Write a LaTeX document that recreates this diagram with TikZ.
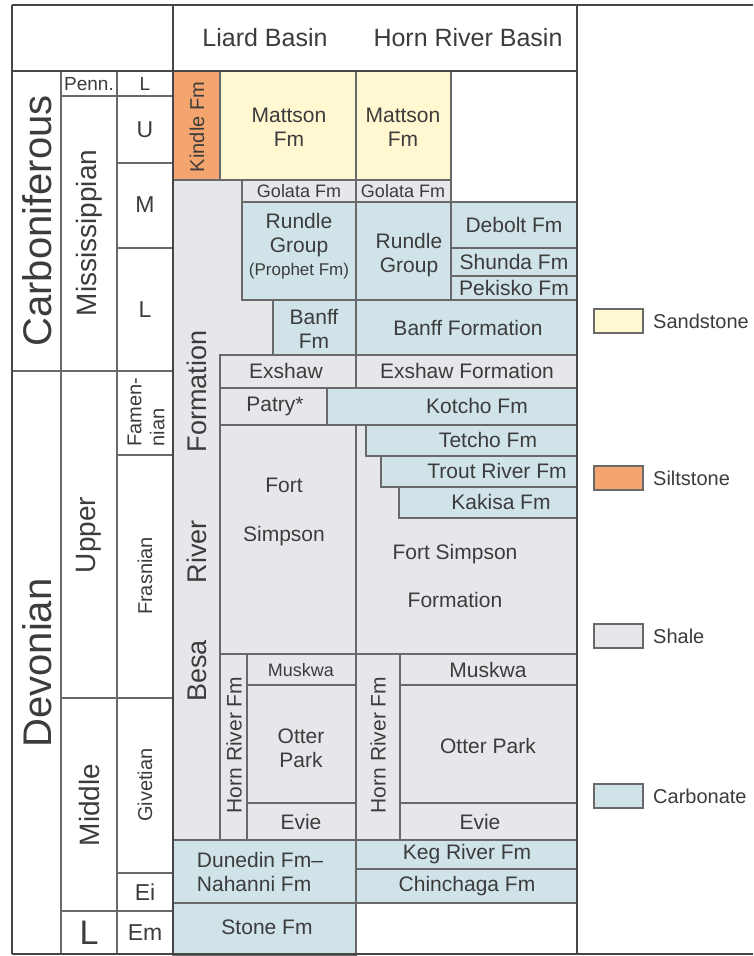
\documentclass[tikz,border=0pt]{standalone}
\usepackage{fontspec}
\setmainfont{Liberation Sans}
\definecolor{sandst}{RGB}{255,248,208}
\definecolor{siltst}{RGB}{244,164,110}
\definecolor{shalec}{RGB}{230,231,234}
\definecolor{carbc}{RGB}{208,227,232}
\definecolor{rulec}{RGB}{105,105,105}
\definecolor{framec}{RGB}{70,70,70}
\definecolor{inkc}{RGB}{60,60,60}

\begin{document}
\begin{tikzpicture}[x=1pt,y=-1pt,
  cell/.style={draw=rulec,line width=1.1pt},
  sand/.style={cell,fill=sandst},
  silt/.style={cell,fill=siltst},
  shale/.style={cell,fill=shalec},
  carb/.style={cell,fill=carbc},
  heavy/.style={draw=framec,line width=2.6pt},
  txt/.style={text=inkc,inner sep=0pt,align=center,font=\fontsize{21}{24}\selectfont},
  small/.style={txt,font=\fontsize{18}{20}\selectfont},
  stage/.style={txt,font=\fontsize{20}{23}\selectfont},
  ser/.style={txt,font=\fontsize{28}{30}\selectfont},
  per/.style={txt,font=\fontsize{40}{42}\selectfont},
  head/.style={txt,font=\fontsize{25}{28}\selectfont}]
  \useasboundingbox (0,0) rectangle (753,956);
  \fill[white] (0,0) rectangle (753,956);
  % Liard Basin column
  \filldraw[silt] (173,71) rectangle (220,180);
  \filldraw[sand] (220,71) rectangle (356,180);
  \filldraw[shale] (173,180) rectangle (356,840);
  \filldraw[shale] (242,180) rectangle (356,202);
  \filldraw[carb] (242,202) rectangle (356,300);
  \filldraw[carb] (273,300) rectangle (356,355);
  \filldraw[shale] (220,355) rectangle (356,388);
  \filldraw[shale] (220,388) rectangle (327,425);
  \filldraw[shale] (220,425) rectangle (356,654);
  \filldraw[shale] (220,654) rectangle (247,840);
  \filldraw[shale] (247,654) rectangle (356,685);
  \filldraw[shale] (247,685) rectangle (356,803);
  \filldraw[shale] (247,803) rectangle (356,840);
  \filldraw[carb] (173,840) rectangle (356,903);
  \filldraw[carb] (173,903) rectangle (356,955);
  % Horn River Basin column
  \filldraw[sand] (356,71) rectangle (451,180);
  \filldraw[shale] (356,180) rectangle (451,202);
  \filldraw[carb] (356,202) rectangle (451,300);
  \filldraw[carb] (451,202) rectangle (577,248);
  \filldraw[carb] (451,248) rectangle (577,276);
  \filldraw[carb] (451,276) rectangle (577,300);
  \filldraw[carb] (356,300) rectangle (577,355);
  \filldraw[shale] (356,355) rectangle (577,388);
  \filldraw[carb] (327,388) rectangle (577,425);
  \filldraw[shale] (356,425) rectangle (577,654);
  \filldraw[carb] (366,425) rectangle (577,456);
  \filldraw[carb] (381,456) rectangle (577,487);
  \filldraw[carb] (399,487) rectangle (577,518);
  \filldraw[shale] (356,654) rectangle (400,840);
  \filldraw[shale] (400,654) rectangle (577,685);
  \filldraw[shale] (400,685) rectangle (577,803);
  \filldraw[shale] (400,803) rectangle (577,840);
  \filldraw[carb] (356,840) rectangle (577,869);
  \filldraw[carb] (356,869) rectangle (577,903);
  % time scale columns
  \draw[cell] (61,71) -- (61,955);
  \draw[cell] (117,71) -- (117,955);
  \draw[cell] (61,96) -- (173,96);
  \draw[cell] (117,163) -- (173,163);
  \draw[cell] (117,248) -- (173,248);
  \draw[cell] (12,371) -- (173,371);
  \draw[cell] (117,455) -- (173,455);
  \draw[cell] (61,698) -- (173,698);
  \draw[cell] (117,873) -- (173,873);
  \draw[cell] (61,911) -- (173,911);
  % frame
  \draw[heavy] (12,5) -- (753,5);
  \draw[heavy] (12,954) -- (753,954);
  \draw[heavy] (12,5) -- (12,954);
  \draw[heavy] (173,5) -- (173,954);
  \draw[heavy] (577,5) -- (577,954);
  \draw[heavy] (12,71) -- (577,71);
  % headings
  \node[head] (liard) at (265,38) {Liard Basin};
  \node[head] (hrb) at (468,38) {Horn River Basin};
  \node[per,rotate=90] (carbon) at (37,221) {Carboniferous};
  \node[per,rotate=90] (devon) at (37,663) {Devonian};
  \node[txt,font=\fontsize{19}{21}\selectfont] (penn) at (89,84) {Penn.};
  \node[ser,rotate=90] (miss) at (89,233) {Mississippian};
  \node[ser,rotate=90] (upper) at (89,535) {Upper};
  \node[ser,rotate=90] (middle) at (89,805) {Middle};
  \node[txt,font=\fontsize{34}{36}\selectfont] (lowdev) at (89,933) {L};
  \node[txt,font=\fontsize{19}{21}\selectfont] (pennl) at (145,84) {L};
  \node[txt,font=\fontsize{23}{25}\selectfont] (missu) at (145,130) {U};
  \node[txt,font=\fontsize{23}{25}\selectfont] (missm) at (145,205) {M};
  \node[txt,font=\fontsize{23}{25}\selectfont] (missl) at (145,310) {L};
  \node[stage,rotate=90,align=left] (famen) at (146,412) {Famen-\\nian};
  \node[stage,rotate=90] (frasn) at (145,576) {Frasnian};
  \node[stage,rotate=90] (givet) at (145,785) {Givetian};
  \node[txt,font=\fontsize{23}{25}\selectfont] (eifel) at (145,892) {Ei};
  \node[txt,font=\fontsize{23}{25}\selectfont] (emsi) at (145,933) {Em};
  % Liard Basin units
  \node[txt,font=\fontsize{20}{22}\selectfont,rotate=90] (kindle) at (197,127) {Kindle Fm};
  \node[txt] (mattl) at (289,127) {Mattson\\Fm};
  \node[small] (golatal) at (299,191) {Golata Fm};
  \node[txt] (rundlel) at (299,246) {Rundle\\Group\\[-1pt]{\fontsize{17}{19}\selectfont(Prophet Fm)}};
  \node[txt] (banffl) at (314,329) {Banff\\Fm};
  \node[txt,font=\fontsize{27}{29}\selectfont,rotate=90] (besa) at (197,516) {Besa\hspace{57pt}River\hspace{68pt}Formation};
  \node[txt] (exshawl) at (286,371) {Exshaw};
  \node[txt] (patry) at (275,406) {Patry*};
  \node[txt] (simpl) at (284,512) {Fort\\[25pt]Simpson};
  \node[txt,rotate=90] (hornl) at (234,745) {Horn River Fm};
  \node[small] (muskl) at (301,670) {Muskwa};
  \node[txt] (otterl) at (301,748) {Otter\\Park};
  \node[txt] (eviel) at (301,822) {Evie};
  \node[txt,align=left] (duned) at (260,872) {Dunedin Fm–\\Nahanni Fm};
  \node[txt] (stone) at (267,927) {Stone Fm};
  % Horn River Basin units
  \node[txt] (matth) at (403,127) {Mattson\\Fm};
  \node[small] (golatah) at (403,191) {Golata Fm};
  \node[txt] (rundleh) at (409,255) {Rundle\\Group};
  \node[txt] (debolt) at (514,225) {Debolt Fm};
  \node[txt] (shunda) at (514,262) {Shunda Fm};
  \node[txt] (pekisko) at (514,288) {Pekisko Fm};
  \node[txt] (banffh) at (468,328) {Banff Formation};
  \node[txt] (exshawh) at (467,371) {Exshaw Formation};
  \node[txt] (kotcho) at (477,406) {Kotcho Fm};
  \node[txt] (tetcho) at (488,440) {Tetcho Fm};
  \node[txt] (trout) at (497,471) {Trout River Fm};
  \node[txt] (kakisa) at (501,502) {Kakisa Fm};
  \node[txt] (simph) at (455,576) {Fort Simpson\\[24pt]Formation};
  \node[txt,rotate=90] (hornh) at (378,745) {Horn River Fm};
  \node[txt] (muskh) at (488,670) {Muskwa};
  \node[txt] (otterh) at (488,746) {Otter Park};
  \node[txt] (evieh) at (480,822) {Evie};
  \node[txt] (keg) at (467,854) {Keg River Fm};
  \node[txt] (chinch) at (467,886) {Chinchaga Fm};
  % legend
  \filldraw[sand] (594,309) rectangle (643,333);
  \node[stage,anchor=west] (legsand) at (653,321) {Sandstone};
  \filldraw[silt] (594,466) rectangle (643,490);
  \node[stage,anchor=west] (legsilt) at (653,478) {Siltstone};
  \filldraw[shale] (594,624) rectangle (643,648);
  \node[stage,anchor=west] (legshale) at (653,636) {Shale};
  \filldraw[carb] (594,784) rectangle (643,808);
  \node[stage,anchor=west] (legcarb) at (653,796) {Carbonate};
\end{tikzpicture}
\end{document}
